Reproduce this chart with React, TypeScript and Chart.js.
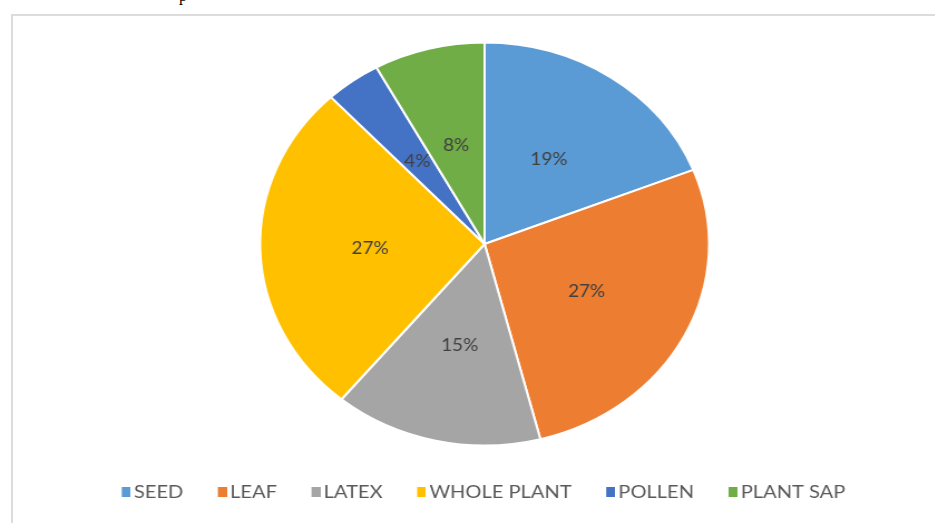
import React, { useEffect, useRef } from "react";
import { Chart, registerables } from "chart.js";

Chart.register(...registerables);

const categories = ["SEED", "LEAF", "LATEX", "WHOLE PLANT", "POLLEN", "PLANT SAP"];
const values = [19, 27, 15, 27, 4, 8];
const colors = ["#5B9BD5", "#ED7D31", "#A5A5A5", "#FFC000", "#4472C4", "#70AD47"];

const STRETCH = 1.114;
const CANVAS_W = 839;
const CANVAS_H = 523;

const labelPlugin = {
  id: "sliceLabels",
  afterDatasetsDraw(chart: any) {
    const ctx = chart.ctx;
    const meta = chart.getDatasetMeta(0);
    const data = chart.data.datasets[0].data as number[];
    const total = data.reduce((a: number, b: number) => a + b, 0);
    ctx.save();
    ctx.font = "17px Lato";
    ctx.fillStyle = "#404040";
    ctx.textAlign = "center";
    ctx.textBaseline = "middle";
    meta.data.forEach((arc: any, i: number) => {
      const p = arc.getProps(["x", "y", "startAngle", "endAngle", "outerRadius"], true);
      const mid = (p.startAngle + p.endAngle) / 2;
      const r = p.outerRadius * 0.51;
      ctx.fillText(
        Math.round((data[i] / total) * 100) + "%",
        p.x + Math.cos(mid) * r,
        p.y + Math.sin(mid) * r + 1
      );
    });
    ctx.restore();
  },
};

function makeSwatch(color: string): HTMLCanvasElement {
  const c = document.createElement("canvas");
  c.width = 12;
  c.height = 10;
  const g = c.getContext("2d")!;
  g.fillStyle = color;
  g.fillRect(4, 0, 8, 10);
  return c;
}

export default function App() {
  const ref = useRef<HTMLCanvasElement>(null);
  useEffect(() => {
    if (!ref.current) return;
    const swatches = colors.map(makeSwatch);
    const chart = new Chart(ref.current, {
      type: "pie",
      data: {
        labels: categories,
        datasets: [
          {
            data: values,
            backgroundColor: colors,
            borderColor: "#ffffff",
            borderWidth: 2,
          },
        ],
      },
      options: {
        responsive: false,
        animation: false,
        devicePixelRatio: 1,
        radius: 201.5,
        layout: { padding: { left: 31, right: 0, top: 38, bottom: 12 } },
        plugins: {
          tooltip: { enabled: false },
          legend: {
            position: "bottom",
            labels: {
              usePointStyle: true,
              pointStyleWidth: 0.01,
              boxHeight: 10,
              padding: 33,
              color: "#595959",
              font: { family: "Lato", size: 18 },
              generateLabels: (ch: any) =>
                ch.data.labels.map((t: string, i: number) => ({
                  text: t,
                  fillStyle: colors[i],
                  strokeStyle: colors[i],
                  lineWidth: 0,
                  pointStyle: swatches[i],
                  hidden: false,
                  index: i,
                  fontColor: "#595959",
                })),
            },
          },
        },
      },
      plugins: [labelPlugin],
    });
    return () => chart.destroy();
  }, []);

  return (
    <div
      style={{
        position: "fixed",
        left: 0,
        top: 0,
        width: 935,
        height: 523,
        overflow: "hidden",
        background: "#ffffff",
      }}
    >
      <span
        style={{
          position: "absolute",
          left: 179,
          top: -12.4,
          fontFamily: "Liberation Serif, serif",
          fontSize: 16,
          lineHeight: "16px",
          color: "#000",
        }}
      >
        p
      </span>
      <div
        style={{
          position: "absolute",
          left: 11,
          top: 14,
          width: 2000,
          height: 2000,
          border: "2px solid #dcdcdc",
        }}
      />
      <div
        style={{
          position: "absolute",
          left: 0,
          top: 0,
          width: CANVAS_W,
          height: CANVAS_H,
          transform: `scaleX(${STRETCH})`,
          transformOrigin: "0 0",
        }}
      >
        <canvas
          ref={ref}
          width={CANVAS_W}
          height={CANVAS_H}
          style={{ width: CANVAS_W, height: CANVAS_H, display: "block" }}
        />
      </div>
    </div>
  );
}
